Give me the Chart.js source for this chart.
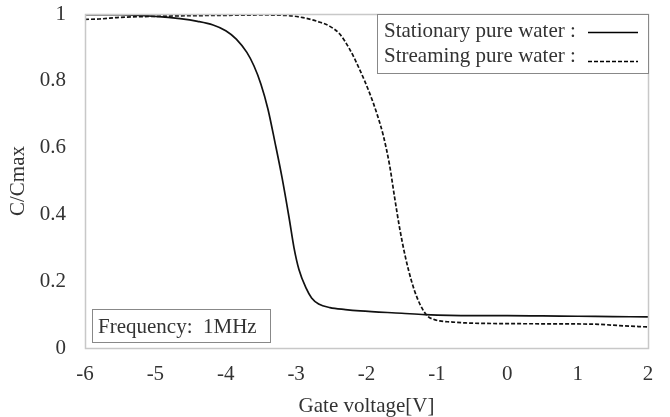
<!DOCTYPE html>
<html>
<head>
<meta charset="utf-8">
<script src="https://cdn.jsdelivr.net/npm/chart.js@4/dist/chart.umd.min.js"></script>
<style>
html,body{margin:0;padding:0;background:#fff;}
#wrap{width:670px;height:417px;position:relative;}
</style>
</head>
<body>
<div id="wrap"><canvas id="c" width="670" height="417"></canvas></div>
<script>
// Data
const stationaryV = [-6, -5.5, -5.0, -4.65, -4.4, -4.18, -4.0, -3.85, -3.7, -3.6, -3.5, -3.4, -3.3, -3.2, -3.1, -3.03, -2.96, -2.86, -2.78, -2.68, -2.52, -2.3, -2.09, -1.5, -1.17, -0.5, 0, 0.5, 1.0, 1.5, 2.0];
const stationaryC = [0.998, 0.998, 0.993, 0.986, 0.978, 0.967, 0.950, 0.925, 0.885, 0.845, 0.79, 0.715, 0.615, 0.51, 0.39, 0.30, 0.235, 0.180, 0.150, 0.132, 0.121, 0.115, 0.111, 0.104, 0.100, 0.097, 0.097, 0.096, 0.095, 0.094, 0.093];
const streamingV = [-6, -5.8, -5.5, -5.0, -4.5, -4.0, -3.5, -3.1, -2.9, -2.7, -2.52, -2.38, -2.24, -2.1, -1.95, -1.85, -1.76, -1.67, -1.6, -1.53, -1.45, -1.36, -1.28, -1.2, -1.13, -1.05, -0.96, -0.8, -0.59, 0, 1.0, 1.3, 1.6, 2.0];
const streamingC = [0.984, 0.985, 0.99, 0.993, 0.995, 0.996, 0.997, 0.995, 0.989, 0.978, 0.963, 0.940, 0.895, 0.835, 0.76, 0.70, 0.635, 0.545, 0.45, 0.36, 0.275, 0.20, 0.15, 0.115, 0.095, 0.086, 0.081, 0.078, 0.075, 0.073, 0.072, 0.071, 0.067, 0.063];
const seriesNames = ["Stationary pure water :", "Streaming pure water :"];
const xTitle = "Gate voltage[V]";
const yTitle = "C/Cmax";
const noteText = "Frequency:  1MHz";
const xMin = -6, xMax = 2, yMin = 0, yMax = 1;

const FONT = "'Liberation Serif', 'Times New Roman', serif";
const TXT = "#333";
const FS = 21;

function pts(xs, ys){ return xs.map((x,i)=>({x:x, y:ys[i]})); }

const decor = {
  id: 'decor',
  afterDatasetsDraw(chart){
    const ctx = chart.ctx, a = chart.chartArea;
    ctx.save();
    // plot border
    ctx.strokeStyle = '#c8c8c8';
    ctx.lineWidth = 1.5;
    ctx.strokeRect(a.left+0.5, a.top+0.5, a.right-a.left, a.bottom-a.top);
    // legend box
    const lx = 377, ly = a.top, lw = a.right - 377, lh = 59;
    ctx.fillStyle = '#fff';
    ctx.fillRect(lx, ly, lw, lh);
    ctx.strokeStyle = '#888';
    ctx.lineWidth = 1;
    ctx.strokeRect(lx+0.5, ly+0.5, lw, lh);
    ctx.fillStyle = TXT;
    ctx.font = FS + "px " + FONT;
    ctx.textBaseline = 'alphabetic';
    ctx.textAlign = 'left';
    ctx.fillText(seriesNames[0], 384, 37);
    ctx.fillText(seriesNames[1], 384, 62);
    ctx.strokeStyle = '#000';
    ctx.lineWidth = 1.5;
    ctx.beginPath(); ctx.moveTo(588, 32.5); ctx.lineTo(638, 32.5); ctx.stroke();
    ctx.setLineDash([4,2]);
    ctx.beginPath(); ctx.moveTo(588, 61.5); ctx.lineTo(638, 61.5); ctx.stroke();
    ctx.setLineDash([]);
    // frequency box
    ctx.fillStyle = '#fff';
    ctx.fillRect(92, 309, 178, 33);
    ctx.strokeStyle = '#888';
    ctx.lineWidth = 1;
    ctx.strokeRect(92.5, 309.5, 178, 33);
    ctx.fillStyle = TXT;
    ctx.fillText(noteText, 98, 333);
    ctx.restore();
  }
};

new Chart(document.getElementById('c'), {
  type: 'line',
  data: {
    datasets: [
      { label: seriesNames[0], data: pts(stationaryV, stationaryC), borderColor: '#111', borderWidth: 1.7, pointRadius: 0, cubicInterpolationMode: 'monotone', fill: false },
      { label: seriesNames[1], data: pts(streamingV, streamingC), borderColor: '#111', borderWidth: 1.7, borderDash: [4,2], pointRadius: 0, cubicInterpolationMode: 'monotone', fill: false }
    ]
  },
  options: {
    responsive: false,
    animation: false,
    devicePixelRatio: 1,
    layout: { padding: { top: 14, right: 22, left: 0, bottom: 0 } },
    plugins: { legend: { display: false }, tooltip: { enabled: false } },
    scales: {
      x: {
        type: 'linear', min: xMin, max: xMax,
        grid: { display: true, drawOnChartArea: false, drawTicks: true, tickLength: 14, color: 'rgba(0,0,0,0)', tickColor: 'rgba(0,0,0,0)' },
        border: { display: false },
        ticks: { stepSize: 1, padding: 0, color: TXT, font: { family: FONT, size: FS }, maxRotation: 0 },
        title: { display: true, text: xTitle, color: TXT, font: { family: FONT, size: FS }, padding: { top: 0, bottom: -2 } },
        afterFit(s){ s.height = 69; }
      },
      y: {
        type: 'linear', min: yMin, max: yMax,
        grid: { display: true, drawOnChartArea: false, drawTicks: true, tickLength: 19, color: 'rgba(0,0,0,0)', tickColor: 'rgba(0,0,0,0)' },
        border: { display: false },
        ticks: { stepSize: 0.2, padding: 0, color: TXT, font: { family: FONT, size: FS },
          callback: (v) => String(Math.round(v*10)/10) },
        title: { display: true, text: yTitle, color: TXT, font: { family: FONT, size: FS }, padding: { top: 6, bottom: 0 } },
        afterFit(s){ s.width = 85; }
      }
    }
  },
  plugins: [decor]
});
</script>
</body>
</html>
